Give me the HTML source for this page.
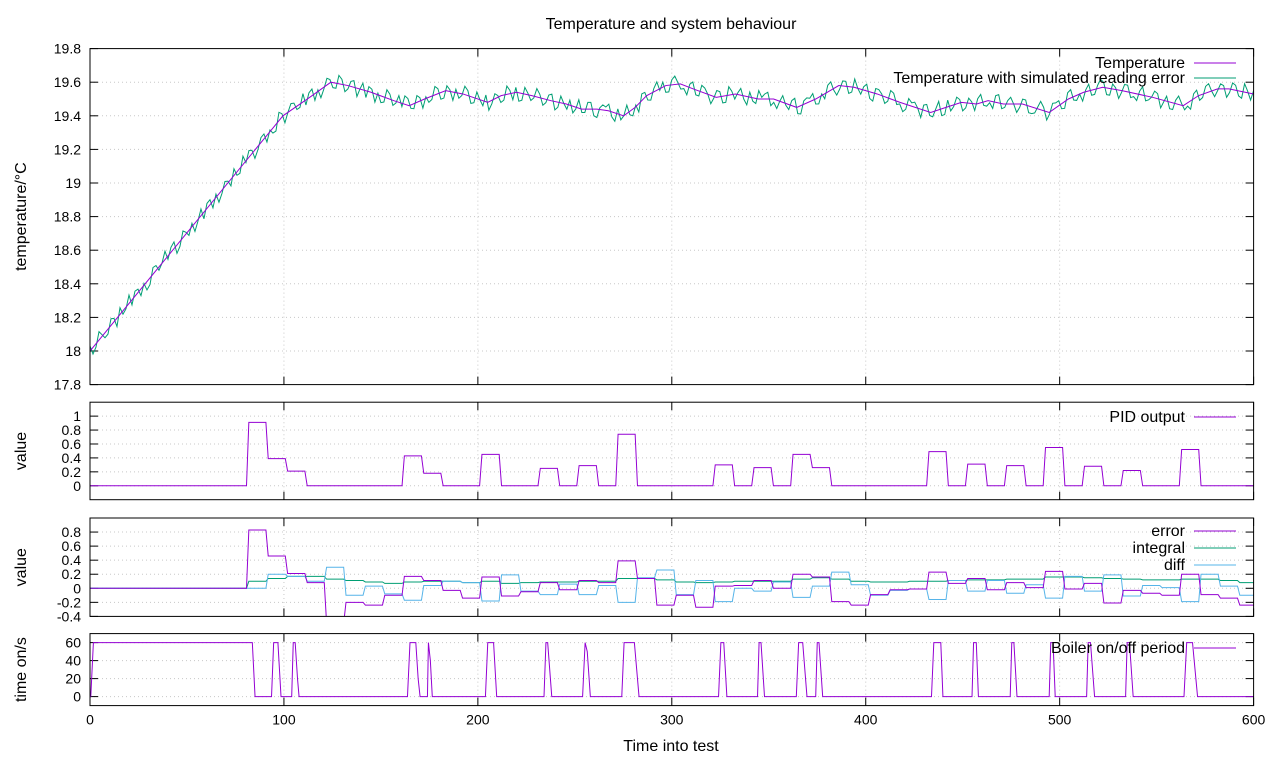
<!DOCTYPE html>
<html><head><meta charset="utf-8"><style>
html,body{margin:0;padding:0;background:#fff;}
svg text{font-family:"Liberation Sans",sans-serif;font-size:14px;fill:#000;}
svg text.big{font-size:16px;}
</style></head><body>
<svg id="chart" width="1280" height="768" viewBox="0 0 1280 768" xmlns="http://www.w3.org/2000/svg">
<rect width="1280" height="768" fill="#fff"/>
<text class="big" x="671" y="29" text-anchor="middle">Temperature and system behaviour</text>
<text class="big" x="671" y="751" text-anchor="middle">Time into test</text>
<g id="layer"></g>
</svg>
<script>
// ---- data ----
const tempT=[0,99.5,113.3,124.2,133,144.9,156.7,164.6,172.5,183.4,192.3,205.1,212,219.9,227.8,237.7,245.6,253.5,261.4,267.3,275.2,281.1,287,296.9,304.4,311.1,322.9,332.8,344.6,352.5,364.4,374.2,386.1,394,405.9,417.7,433.5,441.4,449.3,457.2,463.1,471,480.8,494.6,504.5,512.4,522.2,532.1,547.9,563.7,571.6,581.4,587.3,600];
const tempV=[18.0,19.4,19.51,19.6,19.58,19.54,19.49,19.46,19.5,19.55,19.53,19.48,19.52,19.54,19.52,19.49,19.47,19.44,19.44,19.43,19.4,19.45,19.52,19.58,19.59,19.56,19.51,19.53,19.5,19.5,19.45,19.5,19.58,19.57,19.53,19.48,19.42,19.45,19.48,19.47,19.49,19.47,19.47,19.42,19.5,19.54,19.57,19.55,19.51,19.46,19.52,19.56,19.56,19.53];
const readingErr=[3,-2,1,-3,2,4,-1,-3,2,1,-4,3,0,-2,4,-3,1,2,-1,-4,3,2,-2,1,4,-3,-1,2,-2,3,1,-4,2,0,3,-2,-3,4,1,-1,2,-3,3,-2,4,0,-4,2,1,-3,3,-1,-2,4,-3,2,1,-2,3,-4,1,2,-1,3,-3,0,4,-2,1,-3,2,3,-4,1,-1,2,-2,4,-3,0,3,-1,-2,4,-4,1,2,-3,3,0,-2,1,4,-3,2,-1,-4,3,1,-2,2,-3,4,0,-1,3,-4,2,1,-2,3,-3,1,4,-2,0,-1,3,-4,2,2,-3,1,4,-1,-2,3,-3,0,2,-4,3,1,-2,4,-1,-3,2,0,3,-2,1,-4,4,-1,2,-3,1,3,-2,-1,4,-3,2,0,-2,3,-4,1,2,-1,3,-3,4,-2,0,1,-3,2,3,-4,1,-1,4,-2,2,-3,0,3,-1,-4,2,1,-2,3,-3,4,0,-1,2,-2,3,-4,1,2];
const readingErrB=[-4,5,-3,4,-5,-2,5,3,-4,-5,4,-2,5,3,-5,4,-3,-5,4,3,-4,-5,3,-4,-2,5,4,-5,3,-4,-3,5,-5,4,-2,5,3,-4,-5,4,-3,5,-4,3,-5,4,3,-5,-4,5,-3,4,5,-2,4,-5,-3,5,-4,3,-5,-3,5,-4,4,-3,-5,3,-4,5,-4,-5,4,-3,5,-4,3,-5,4,-3,-4,5,-2,4,-5,3,4,-5,-3,5,-4,-5,3,-4,5,3,-4,5,-3,-5,4,-3,3,-5,4,-4,5,-3,4,-5,-2,5,3,-4,-5,4,-3,5,-5,3,4,-4,-3,5,-5,3,-4,5,-3,4,-5,3,-4,5,-2,-5,4,3,-5,4,-3,5,-4,-3,4,-5,3,-4,5,-3,-4,5,-2,4,-5,3,-4,-3,5,-5,4,3,-4,5,-3,-5,4,-3,5,-4,3,-5,4,-3,-4,5,-2,4,-5,3,-4,5,-3,-5,4,-2,5,-4,3,-5,4,-3,5,-4,3,-2];
const segT=[81.3,91.3,101.3,111.4,121.4,131.4,141.4,151.4,161.5,171.5,181.5,191.5,201.5,211.6,221.6,231.6,241.6,251.6,261.7,271.7,281.7,291.7,301.7,311.8,321.8,331.8,341.8,351.8,361.9,371.9,381.9,391.9,401.9,412.0,422.0,432.0,442.0,452.0,462.1,472.1,482.1,492.1,502.1,512.2,522.2,532.2,542.2,552.2,562.3,572.3,582.3,592.3];
const pidV=[.91,.39,.21,0,0,0,0,0,.43,.18,0,0,.45,0,0,.25,0,.29,0,.74,0,0,0,0,.30,0,.26,0,.45,.26,0,0,0,0,0,.49,0,.31,0,.29,0,.55,0,.28,0,.22,0,0,.52,0,0,0];
const errV=[.83,.46,.21,.08,-.5,-.2,-.24,-.1,.17,.11,-.03,-.14,.16,-.11,-.05,.08,-.02,.11,.08,.39,.14,-.24,-.1,-.27,.03,.04,.11,0,.2,.16,-.19,-.24,-.09,-.02,-.01,.23,.07,.14,-.02,.08,.01,.24,-.01,.07,-.21,-.03,-.07,-.1,.2,-.09,-.14,-.24];
const intV=[.10,.14,.17,.17,.13,.11,.09,.07,.09,.10,.10,.08,.10,.07,.08,.09,.09,.10,.10,.14,.14,.12,.09,.08,.09,.10,.10,.10,.13,.15,.13,.10,.09,.09,.10,.10,.11,.12,.12,.13,.13,.16,.16,.15,.14,.13,.12,.12,.13,.13,.11,.08];
const diffV=[0,.2,.17,.1,.3,-.1,.03,-.08,-.17,.04,.1,.08,-.18,.19,-.04,-.09,.06,-.09,.04,-.2,.15,.26,-.09,.11,-.19,0,-.04,.09,-.13,.03,.23,.05,-.1,-.03,-.01,-.16,.11,-.04,.11,-.07,.05,-.14,.17,-.04,.19,-.11,.04,.01,-.19,.2,.03,-.1];
const boilT=[0,0.4,1.75,81.7,83.7,85.1,93.6,94.7,96.9,98.5,104,104.8,105.8,107,107.8,163.7,165,168,169.2,170.2,174,174.5,175.5,176.5,203.9,205.1,208.1,209.7,234.1,235.1,236,238.1,254,255.3,256.4,258,274.2,275.4,280.7,283.1,324.1,325.3,326.8,328.4,344.2,345,346,347.8,364.2,365.4,367.5,369.7,374.2,375,375.9,377.8,433.9,435.1,438.7,439.8,454.8,455.6,457,458.1,474.5,475.3,476.4,478,494.6,495.4,496.6,497.7,513.9,514.7,515.9,518,534,534.8,536,537.9,564.1,565.5,568.5,571.1,600];
const boilV=[0,0,60,60,60,0,0,60,60,0,0,60,60,20,0,0,60,60,20,0,0,60,40,0,0,60,60,0,0,60,60,0,0,60,50,0,0,60,60,0,0,60,60,0,0,60,60,0,0,60,60,0,0,60,60,0,0,60,60,0,0,60,60,0,0,60,60,0,0,60,60,0,0,60,60,0,0,60,60,0,0,60,60,0,0];
const xTicks=[0,100,200,300,400,500,600];
const t1Ticks=[17.8,18,18.2,18.4,18.6,18.8,19,19.2,19.4,19.6,19.8];
const t2Ticks=[0,0.2,0.4,0.6,0.8,1];
const t3Ticks=[-0.4,-0.2,0,0.2,0.4,0.6,0.8];
const t4Ticks=[0,20,40,60];
// ---- layout ----
const X0=90,X1=1253.6;
const xs=t=>X0+t*(X1-X0)/600;
const panels=[
 {name:'temperature-panel',top:48.6,bot:384.6,min:17.8,max:19.8,ticks:t1Ticks,label:'temperature/°C'},
 {name:'pid-panel',top:402.2,bot:499.7,min:-0.2,max:1.2,ticks:t2Ticks,label:'value'},
 {name:'pid-terms-panel',top:518,bot:616.4,min:-0.4,max:1.0,ticks:t3Ticks,label:'value'},
 {name:'boiler-panel',top:633.6,bot:705.6,min:-10,max:70,ticks:t4Ticks,label:'time on/s'}
];
const NS='http://www.w3.org/2000/svg';
const layer=document.getElementById('layer');
function mk(tag,attrs,parent){const e=document.createElementNS(NS,tag);for(const k in attrs)e.setAttribute(k,attrs[k]);(parent||layer).appendChild(e);return e;}
function ys(p,v){return p.bot-(v-p.min)*(p.bot-p.top)/(p.max-p.min);}
function interp(T,V,t){for(let i=0;i<T.length-1;i++){if(t<=T[i+1]){const f=(t-T[i])/(T[i+1]-T[i]);return V[i]+f*(V[i+1]-V[i]);}}return V[V.length-1];}
function stepPts(vals){const pts=[[0,0],[segT[0]-0.6,0]];for(let k=0;k<vals.length;k++){const e=k+1<segT.length?segT[k+1]-0.6:600;pts.push([segT[k]+0.6,vals[k]],[e,vals[k]]);}return pts;}
function line(p,pts,color,name){
 const d=pts.map((q,i)=>(i?'L':'M')+xs(q[0]).toFixed(2)+','+ys(p,q[1]).toFixed(2)).join('');
 const el=mk('path',{d:d,fill:'none',stroke:color,'stroke-width':1,'clip-path':'url(#clip'+p.idx+')'});
 
 
}
function legend(p,y,text,color,name){
 const t=mk('text',{x:1185,y:y+5,'text-anchor':'end','class':'big'});t.textContent=text;
 
 
 const l=mk('line',{x1:1194,x2:1236,y1:y,y2:y,stroke:color,'stroke-width':1});
 
 
}
const defs=mk('defs',{});
panels.forEach((p,i)=>{
 p.idx=i;
 const cp=mk('clipPath',{id:'clip'+i},defs);mk('rect',{x:X0,y:p.top,width:X1-X0,height:p.bot-p.top},cp);
 const g=mk('g',{});
 
 
 p.ticks.forEach(v=>{
  const y=ys(p,v);
  if(y>p.top+1&&y<p.bot-1){const gl=mk('line',{x1:X0,x2:X1,y1:y,y2:y,stroke:'#c8c8c8','stroke-dasharray':'1,3'},g);
   
   }
  mk('line',{x1:X0,x2:X0+8,y1:y,y2:y,stroke:'#000'},g);
  mk('line',{x1:X1-8,x2:X1,y1:y,y2:y,stroke:'#000'},g);
  const tl=mk('text',{x:X0-9,y:y+5,'text-anchor':'end'},g);tl.textContent=String(v);
  
  
 });
 xTicks.forEach(v=>{
  const x=xs(v);
  if(v>0&&v<600){const gl=mk('line',{x1:x,x2:x,y1:p.top,y2:p.bot,stroke:'#c8c8c8','stroke-dasharray':'1,3'},g);
   
   }
  mk('line',{x1:x,x2:x,y1:p.bot,y2:p.bot-8,stroke:'#000'},g);
  mk('line',{x1:x,x2:x,y1:p.top,y2:p.top+8,stroke:'#000'},g);
  if(i===3){const tl=mk('text',{x:x,y:p.bot+19,'text-anchor':'middle'},g);tl.textContent=String(v);
   
   }
 });
 const cy=(p.top+p.bot)/2;
 const yl=mk('text',{x:0,y:0,'text-anchor':'middle','class':'big',transform:'translate(26,'+cy+') rotate(-90)'},g);yl.textContent=p.label;
 
 
});
// panel 1
const P=panels;
const smooth=[];for(let i=0;i<tempT.length;i++)smooth.push([tempT[i],tempV[i]]);
const noisy=[];const step=600/(readingErr.length-1);
for(let i=0;i<readingErr.length;i++){
 const t=i*step;noisy.push([t,interp(tempT,tempV,t)+readingErr[i]/100]);
 if(i<readingErrB.length&&i<readingErr.length-1){const t2=t+step/2;noisy.push([t2,interp(tempT,tempV,t2)+readingErrB[i]/100]);}
}
line(P[0],noisy,'#009e73','noisy-temperature-line');
line(P[0],smooth,'#9400d3','temperature-line');
legend(P[0],63,'Temperature','#9400d3','temperature');
legend(P[0],78,'Temperature with simulated reading error','#009e73','noisy-temperature');
// panel 2
line(P[1],stepPts(pidV),'#9400d3','pid-output-line');
legend(P[1],417,'PID output','#9400d3','pid-output');
// panel 3
line(P[2],stepPts(intV),'#009e73','integral-line');
line(P[2],stepPts(diffV),'#56b4e9','diff-line');
line(P[2],stepPts(errV),'#9400d3','error-line');
legend(P[2],531,'error','#9400d3','error');
legend(P[2],548,'integral','#009e73','integral');
legend(P[2],565,'diff','#56b4e9','diff');
// panel 4
const bp=[];for(let i=0;i<boilT.length;i++)bp.push([boilT[i],boilV[i]]);
line(P[3],bp,'#9400d3','boiler-period-line');
legend(P[3],648,'Boiler on/off period','#9400d3','boiler-period');
// frames
panels.forEach(p=>{const f=mk('rect',{x:X0,y:p.top,width:X1-X0,height:p.bot-p.top,fill:'none',stroke:'#000','stroke-width':1});
 
 });
</script>
</body></html>
